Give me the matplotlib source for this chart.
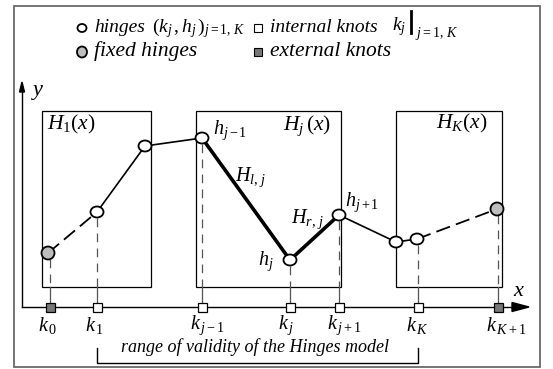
import matplotlib
matplotlib.use("Agg")
import matplotlib.pyplot as plt
from matplotlib.patches import Rectangle, Ellipse, Polygon

plt.rcParams['font.family'] = ['Liberation Serif', 'DejaVu Serif']
plt.rcParams['mathtext.fontset'] = 'custom'
plt.rcParams['mathtext.rm'] = 'Liberation Serif'
plt.rcParams['mathtext.it'] = 'Liberation Serif:italic'
plt.rcParams['mathtext.bf'] = 'Liberation Serif:bold'

# ---------------- data (pixel-like diagram coordinates) ----------------
knot_labels = [r'$k_{\,0}$', r'$k_{\,1}$', r'$k_{\,j-1}$', r'$k_{\,j}$',
               r'$k_{\,j+1}$', r'$k_{\,K}$', r'$k_{\,K+1}$']
knot_x = [50, 97, 202, 290, 339, 418, 498]
knot_external = [True, False, False, False, False, False, True]

hinge_x = [48, 97, 145, 202, 290, 339, 396, 417, 497]
hinge_y = [253, 212, 146, 138, 260, 215, 242, 239, 209]
hinge_fixed = [True, False, False, False, False, False, False, False, True]
segment_style = ['dash', 'thin', 'thin', 'thick', 'thick', 'thin', 'thin', 'dash']

# hinges that have a knot below them (index into hinge list)
drop_hinges = [0, 1, 3, 4, 5, 7, 8]

box_labels = [r'$H_1(x)$', r'$H_j\,(x)$', r'$H_K(x)$']
box_x0 = [42, 196, 396]
box_x1 = [151, 341, 502]
box_top, box_bot = 111, 287

axis_y = 307
axis_x = 22

W, H = 553, 369
fig = plt.figure(figsize=(W / 100, H / 100), dpi=100)
ax = fig.add_axes([0, 0, 1, 1])
ax.set_xlim(0, W)
ax.set_ylim(H, 0)
ax.axis('off')

# outer frame
ax.add_patch(Rectangle((13.5, 6), 540 - 13.5, 367 - 6, fill=False,
                       edgecolor='#6a6a6a', lw=1.3))

# boxes
for x0, x1, lab in zip(box_x0, box_x1, box_labels):
    ax.add_patch(Rectangle((x0, box_top), x1 - x0, box_bot - box_top,
                           fill=False, edgecolor='black', lw=0.9))
ax.text(47, 124, box_labels[0], fontsize=15.5, ha='left', va='center')
ax.text(283, 126, box_labels[1], fontsize=15.5, ha='left', va='center')
ax.text(436, 123, box_labels[2], fontsize=15.5, ha='left', va='center')

# vertical drop lines
gray = '#555555'
for i, kx in zip(drop_hinges, knot_x):
    hy = hinge_y[i]
    ax.plot([kx, kx], [hy + 6, box_bot], color=gray, lw=0.9,
            ls=(0, (7, 5)), zorder=1)
    ax.plot([kx, kx], [box_bot, axis_y], color=gray, lw=0.9, zorder=1)

# axes
ax.plot([axis_x, 514], [axis_y, axis_y], color='black', lw=1.0, zorder=2)
ax.add_patch(Polygon([[512, axis_y - 4.5], [529, axis_y], [512, axis_y + 4.5]],
                     closed=True, color='black', zorder=2))
ax.plot([axis_x, axis_x], [axis_y, 90], color='black', lw=1.0, zorder=2)
ax.add_patch(Polygon([[axis_x - 2.5, 92], [axis_x, 82], [axis_x + 2.5, 92]],
                     closed=True, color='black', zorder=2))
ax.text(519, 292, r'$x$', fontsize=16, ha='center', va='center')
ax.text(38, 93, r'$y$', fontsize=16, ha='center', va='center')

# hinge polyline
for s in range(len(segment_style)):
    xs = hinge_x[s:s + 2]
    ys = hinge_y[s:s + 2]
    st = segment_style[s]
    if st == 'dash':
        ax.plot(xs, ys, color='black', lw=1.3, ls=(0, (8, 3.5)), zorder=3)
    elif st == 'thick':
        ax.plot(xs, ys, color='black', lw=2.6, zorder=3, solid_capstyle='round')
    else:
        ax.plot(xs, ys, color='black', lw=1.2, zorder=3)

# hinge markers
for hx, hy, fx in zip(hinge_x, hinge_y, hinge_fixed):
    if fx:
        ax.add_patch(Ellipse((hx, hy), 13, 13, facecolor='#bdbdbd',
                             edgecolor='black', lw=1.3, zorder=4))
    else:
        ax.add_patch(Ellipse((hx, hy), 13, 11, facecolor='white',
                             edgecolor='black', lw=1.3, zorder=4))

# knots
for kx, ext, lab in zip(knot_x, knot_external, knot_labels):
    ax.add_patch(Rectangle((kx - 4.5, axis_y - 4.5), 9, 9,
                           facecolor='#777777' if ext else 'white',
                           edgecolor='black', lw=0.9, zorder=4))
    ax.text(kx - 12, 325, lab, fontsize=14.5, ha='left', va='center')

# hinge labels
ax.text(213, 130, r'$h_{j-1}$', fontsize=14.5, ha='left', va='center')
ax.text(235, 177, r'$H_{l,\,j}$', fontsize=14.5, ha='left', va='center')
ax.text(291, 219, r'$H_{r,\,j}$', fontsize=14.5, ha='left', va='center')
ax.text(345, 202, r'$h_{j+1}$', fontsize=14.5, ha='left', va='center')
ax.text(258, 261, r'$h_j$', fontsize=14.5, ha='left', va='center')

# range bracket
ax.plot([97, 97, 418, 418], [348, 363, 363, 348], color='black', lw=1.0)
ax.text(255, 347, 'range of validity of the Hinges model', fontsize=13,
        style='italic', ha='center', va='center')

# legend
ax.add_patch(Ellipse((82, 28), 9, 8, facecolor='white', edgecolor='black', lw=1.3))
ax.text(94, 27, 'hinges', fontsize=14, style='italic', ha='left', va='center')
ax.text(152, 28, r'$(k_j\,,h_j\,)_{j=1,\,K}$', fontsize=14, ha='left', va='center')
ax.add_patch(Rectangle((254, 24), 8, 8, facecolor='white', edgecolor='black', lw=0.8))
ax.text(270, 27, 'internal knots', fontsize=14, style='italic', ha='left', va='center')
ax.text(392, 27, r'$k_j$', fontsize=14, ha='left', va='center')
ax.plot([411, 411], [11, 33], color='black', lw=2.0)
ax.text(415, 33, r'$j=1,\,K$', fontsize=10, ha='left', va='center')

ax.add_patch(Ellipse((82, 52), 10, 11, facecolor='#bdbdbd', edgecolor='black', lw=1.3))
ax.text(94, 51, 'fixed hinges', fontsize=15.5, style='italic', ha='left', va='center')
ax.add_patch(Rectangle((254, 48), 8, 8, facecolor='#777777', edgecolor='black', lw=0.8))
ax.text(270, 51, 'external knots', fontsize=15.5, style='italic', ha='left', va='center')

fig.savefig('out.png', dpi=100)
